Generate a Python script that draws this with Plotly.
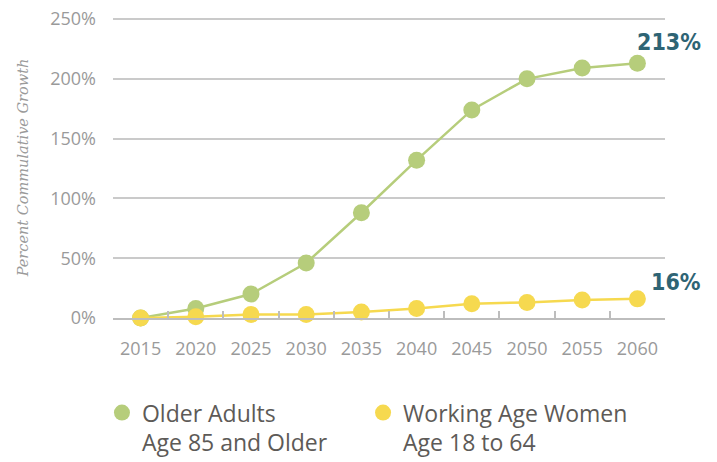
import plotly.graph_objects as go

years = ["2015", "2020", "2025", "2030", "2035", "2040", "2045", "2050", "2055", "2060"]
older_adults = [0, 8, 20, 46, 88, 132, 174, 200, 209, 213]
working_women = [0, 1, 3, 3, 5, 8, 12, 13, 15, 16]
series_names = ["Older Adults<br>Age 85 and Older", "Working Age Women<br>Age 18 to 64"]
colors = ["#b6cd7b", "#f6d94f"]
end_labels = ["213%", "16%"]
y_ticks = [0, 50, 100, 150, 200, 250]
y_tick_text = ["0%", "50%", "100%", "150%", "200%", "250%"]

fig = go.Figure()
for vals, name, col in zip([older_adults, working_women], series_names, colors):
    fig.add_trace(go.Scatter(
        x=years, y=vals, mode="lines+markers", name=name,
        line=dict(color=col, width=2.5),
        marker=dict(color=col, size=17),
        showlegend=False, cliponaxis=False,
    ))
for name, col, lg in zip(series_names, colors, ["legend", "legend2"]):
    fig.add_trace(go.Scatter(
        x=[None], y=[None], mode="markers", name=name,
        marker=dict(color=col, size=19), showlegend=True, legend=lg,
    ))

last_idx = len(years) - 1
for vals, lab, ys in zip([older_adults, working_women], end_labels, [21, 17]):
    fig.add_annotation(
        x=last_idx, y=vals[-1], xref="x", yref="y", text=lab, showarrow=False,
        xanchor="right", yanchor="middle", xshift=66, yshift=ys,
        font=dict(family="DejaVu Sans Condensed, Liberation Sans Narrow, sans-serif",
                  size=23, color="#2e6474", weight="bold"),
    )

legend_common = dict(
    orientation="v", xanchor="left", yanchor="top", y=-0.243,
    font=dict(family="Open Sans", size=23, color="#5d5a57"),
    itemsizing="trace", valign="top", bgcolor="rgba(0,0,0,0)",
)

fig.update_layout(
    width=717, height=462,
    margin=dict(l=105, r=60, t=9, b=152, autoexpand=False),
    paper_bgcolor="white", plot_bgcolor="white",
    font=dict(family="Open Sans", color="#9a9a9a"),
    showlegend=True,
    legend=dict(x=-0.02, **legend_common),
    legend2=dict(x=0.453, **legend_common),
    xaxis=dict(
        type="category", range=[-0.5, 9.5],
        tickson="boundaries", ticks="inside", ticklen=7, tickcolor="#bdbdbd", tickwidth=1.5,
        showline=True, linecolor="#bdbdbd", linewidth=2,
        showgrid=False,
        tickfont=dict(size=18, color="#9a9a9a"),
        ticklabelstandoff=13,
    ),
    yaxis=dict(
        range=[0, 251.7], tickvals=y_ticks, ticktext=y_tick_text,
        showgrid=True, gridcolor="#cacaca", gridwidth=1.5,
        zeroline=False, showline=False,
        tickfont=dict(size=18, color="#9a9a9a"),
        ticklabelstandoff=16, ticklabeloverflow="allow",
        title=dict(text="Percent Commulative Growth", standoff=18,
                   font=dict(family="DejaVu Serif", size=14.5, color="#9a9a9a", style="italic")),
    ),
)

fig.write_html("out.html")
